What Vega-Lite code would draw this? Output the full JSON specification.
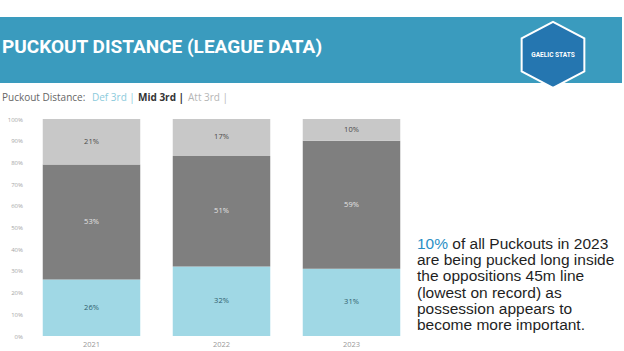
{
  "$schema": "https://vega.github.io/schema/vega-lite/v6.json",
  "background": "white",
  "padding": {"left": 0, "top": 17, "right": 0, "bottom": 0},
  "config": {"view": {"stroke": null}, "font": "Open Sans"},
  "spacing": -1,
  "resolve": {"scale": {"color": "independent"}, "legend": {"color": "independent"}},
  "vconcat": [
    {
      "spacing": 0,
      "hconcat": [
        {
          "width": 324, "height": 66,
          "view": {"fill": "#3a9bbe", "stroke": null},
          "data": {"values": [{"title": "PUCKOUT DISTANCE (LEAGUE DATA)"}]},
          "mark": {"type": "text", "font": "Roboto", "fontWeight": "bold", "fontSize": 19, "color": "white", "align": "center", "baseline": "middle", "dy": -3},
          "encoding": {"text": {"field": "title"}}
        },
        {
          "width": 160, "height": 66,
          "view": {"fill": "#3a9bbe", "stroke": null},
          "data": {"values": [{"t": ""}]},
          "mark": {"type": "text"},
          "encoding": {"text": {"field": "t"}}
        },
        {
          "width": 138, "height": 66,
          "view": {"fill": "#3a9bbe", "stroke": null},
          "data": {"values": [{"logo": "GAELIC STATS"}]},
          "layer": [
            {
              "mark": {"type": "point", "shape": "M0,-0.85L0.95,-0.35L0.95,0.65L0,1.15L-0.95,0.65L-0.95,-0.35Z", "size": 4356, "filled": true, "fill": "#2576b0", "stroke": "white", "strokeWidth": 2, "opacity": 1},
              "encoding": {}
            },
            {
              "mark": {"type": "text", "color": "white", "fontSize": 6.5, "fontWeight": "bold", "font": "Roboto", "dy": 5},
              "encoding": {"text": {"field": "logo"}}
            }
          ]
        }
      ]
    },
    {
      "spacing": 0,
      "resolve": {"scale": {"color": "independent"}, "legend": {"color": "independent"}},
      "hconcat": [
        {
          "width": 416.5, "height": 217,
          "data": {"values": [
            {"year": "2021", "zone": "Def 3rd", "rank": 1, "share": 0.26},
            {"year": "2021", "zone": "Mid 3rd", "rank": 2, "share": 0.53},
            {"year": "2021", "zone": "Att 3rd", "rank": 3, "share": 0.21},
            {"year": "2022", "zone": "Def 3rd", "rank": 1, "share": 0.32},
            {"year": "2022", "zone": "Mid 3rd", "rank": 2, "share": 0.51},
            {"year": "2022", "zone": "Att 3rd", "rank": 3, "share": 0.17},
            {"year": "2023", "zone": "Def 3rd", "rank": 1, "share": 0.31},
            {"year": "2023", "zone": "Mid 3rd", "rank": 2, "share": 0.59},
            {"year": "2023", "zone": "Att 3rd", "rank": 3, "share": 0.10}
          ]},
          "encoding": {
            "x": {"field": "year", "type": "nominal",
                  "scale": {"paddingInner": 0.25, "paddingOuter": 0.2269, "align": 0.7246},
                  "axis": {"title": null, "labelAngle": 0, "domain": false, "ticks": false, "labelFontSize": 7.5, "labelColor": "#999999", "labelPadding": 4}},
            "y": {"field": "share", "type": "quantitative", "stack": "zero",
                  "scale": {"domain": [0, 1], "nice": false},
                  "axis": {"title": null, "offset": -26.5, "values": [0, 0.1, 0.2, 0.3, 0.4, 0.5, 0.6, 0.7, 0.8, 0.9, 1], "format": ".0%", "labelOverlap": false, "domain": false, "ticks": false, "grid": false, "labelFontSize": 6, "labelColor": "#a6a6a6", "labelPadding": 4}},
            "order": {"field": "rank", "type": "quantitative"}
          },
          "layer": [
            {
              "mark": {"type": "bar"},
              "encoding": {
                "color": {"field": "zone", "type": "nominal",
                          "scale": {"domain": ["Def 3rd", "Mid 3rd", "Att 3rd"], "range": ["#a0d8e5", "#7f7f7f", "#c8c8c8"]},
                          "legend": {
                            "orient": "none", "legendX": 0, "legendY": -28, "direction": "horizontal",
                            "title": "Puckout Distance:", "titleOrient": "left", "titleFontSize": 10, "titleFontWeight": "normal", "titleColor": "#666666", "titlePadding": 3, "titleFont": "Open Sans",
                            "labelFontSize": 10, "labelFont": "Open Sans", "labelExpr": "datum.label + ' |'",
                            "symbolSize": 0, "symbolStrokeWidth": 0, "symbolOpacity": 0, "labelOffset": -7, "columnPadding": -1, "padding": 2,
                            "encode": {"labels": {"update": {
                              "fill": {"signal": "datum.value === 'Def 3rd' ? '#8ccbdc' : datum.value === 'Mid 3rd' ? '#333333' : '#b5b5b5'"},
                              "fontWeight": {"signal": "datum.value === 'Mid 3rd' ? 'bold' : 'normal'"}
                            }}}
                          }}
              }
            },
            {
              "mark": {"type": "text", "fontSize": 7.5, "baseline": "middle"},
              "encoding": {
                "y": {"field": "share", "type": "quantitative", "stack": "zero", "bandPosition": 0.5,
                      "axis": {"title": null, "offset": -26.5, "values": [0, 0.1, 0.2, 0.3, 0.4, 0.5, 0.6, 0.7, 0.8, 0.9, 1], "format": ".0%", "labelOverlap": false, "domain": false, "ticks": false, "grid": false, "labelFontSize": 6, "labelColor": "#a6a6a6", "labelPadding": 4}},
                "detail": {"field": "zone"},
                "text": {"field": "share", "type": "quantitative", "format": ".0%"},
                "color": {"condition": [
                  {"test": "datum.zone === 'Mid 3rd'", "value": "#e4e4e4"},
                  {"test": "datum.zone === 'Def 3rd'", "value": "#2f5d6c"}
                ], "value": "#4a4a4a"}
              }
            }
          ]
        },
        {
          "width": 205, "height": 217,
          "data": {"values": [
            {"line": 1, "lead": "10%", "text": "of all Puckouts in 2023"},
            {"line": 2, "text": "are being pucked long inside"},
            {"line": 3, "text": "the oppositions 45m line"},
            {"line": 4, "text": "(lowest on record) as"},
            {"line": 5, "text": "possession appears to"},
            {"line": 6, "text": "become more important."}
          ]},
          "encoding": {
            "x": {"datum": 0, "type": "quantitative", "scale": {"domain": [0, 1], "nice": false}, "axis": null},
            "y": {"field": "line", "type": "quantitative", "scale": {"domain": [-6.716, 6.679], "reverse": true, "nice": false, "zero": false}, "axis": null}
          },
          "layer": [
            {
              "transform": [{"filter": "!datum.lead"}],
              "mark": {"type": "text", "align": "left", "baseline": "middle", "font": "Liberation Sans", "fontSize": 15.5, "color": "#1f1f1f"},
              "encoding": {"text": {"field": "text"}}
            },
            {
              "transform": [{"filter": "datum.lead"}],
              "mark": {"type": "text", "align": "left", "baseline": "middle", "font": "Liberation Sans", "fontSize": 15.5, "color": "#1f1f1f", "dx": 35.3},
              "encoding": {"text": {"field": "text"}}
            },
            {
              "transform": [{"filter": "datum.lead"}],
              "mark": {"type": "text", "align": "left", "baseline": "middle", "font": "Liberation Sans", "fontSize": 15.5, "color": "#2b8fc5"},
              "encoding": {"text": {"field": "lead"}}
            }
          ]
        }
      ]
    }
  ]
}
